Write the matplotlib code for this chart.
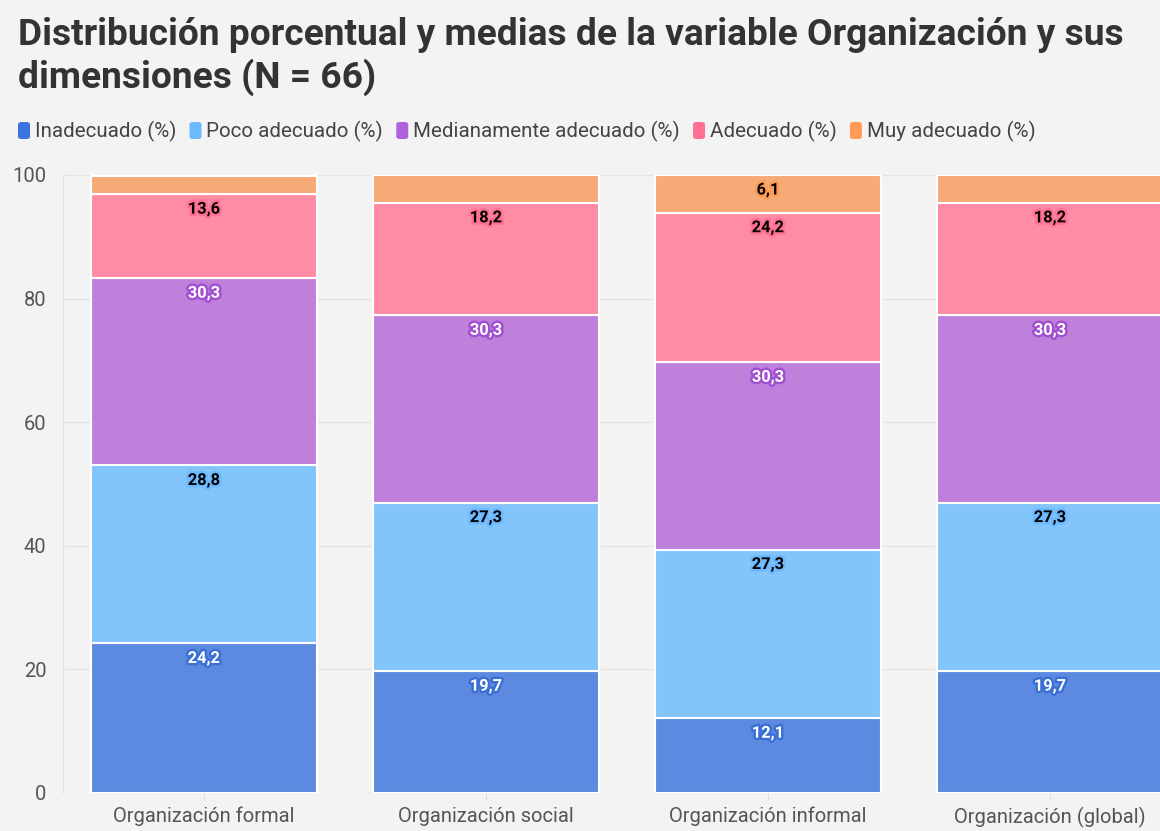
import matplotlib
matplotlib.use("Agg")
import matplotlib.pyplot as plt
import matplotlib.patheffects as pe
from matplotlib.patches import FancyBboxPatch
import numpy as np

categories = ["Organización formal", "Organización social", "Organización informal", "Organización (global)"]
series_names = ["Inadecuado (%)", "Poco adecuado (%)", "Medianamente adecuado (%)", "Adecuado (%)", "Muy adecuado (%)"]
inadecuado = [24.2, 19.7, 12.1, 19.7]
poco_adecuado = [28.8, 27.3, 27.3, 27.3]
medianamente = [30.3, 30.3, 30.3, 30.3]
adecuado = [13.6, 18.2, 24.2, 18.2]
muy_adecuado = [3.0, 4.5, 6.1, 4.5]
series_values = [inadecuado, poco_adecuado, medianamente, adecuado, muy_adecuado]
yticks = [0, 20, 40, 60, 80, 100]

bar_colors = ["#5b8ae0", "#83c4fb", "#bf80dc", "#ff8ca5", "#f6aa76"]
legend_colors = ["#3b74df", "#6cb9ff", "#b062dd", "#ff7093", "#ff9b55"]
label_text = ["white", "black", "white", "black", "black"]
label_glow = ["#3b6fd6", "#6cb9ff", "#a050d0", "#ff7093", "#ff9b55"]

plt.rcParams["font.family"] = ["Roboto", "DejaVu Sans"]
bg = "#f3f3f3"
fig = plt.figure(figsize=(11.60, 8.31), dpi=100, facecolor=bg)
ax = fig.add_axes([63/1160, 38/831, 1128/1160, 618/831])
ax.set_facecolor(bg)

x = np.arange(len(categories))
bottom = np.zeros(len(categories))
for i, vals in enumerate(series_values):
    vals = np.array(vals)
    ax.bar(x, vals, width=0.8, bottom=bottom, color=bar_colors[i],
           edgecolor="white", linewidth=1.5, zorder=3)
    for j, v in enumerate(vals):
        if v >= 5:
            top = bottom[j] + v
            ax.annotate(f"{v:.1f}".replace(".", ","), xy=(x[j], top), xytext=(0, -15),
                        textcoords="offset pixels", ha="center", va="center",
                        fontsize=11.8, fontweight="bold", color=label_text[i], zorder=5,
                        path_effects=[pe.withStroke(linewidth=3.5, foreground=label_glow[i])])
    bottom += vals

ax.set_xlim(-0.5, 3.5)
ax.set_ylim(0, 100)
ax.set_yticks(yticks)
ax.set_xticks(x)
ax.set_xticklabels(categories, fontsize=14.5, color="#555555")
ax.tick_params(axis="y", length=0, labelsize=14.5, labelcolor="#555555", pad=12)
ax.tick_params(axis="x", length=5, color="#dddddd", pad=5)
ax.grid(axis="y", color="#e4e4e4", linewidth=1, zorder=0)
for s in ["top", "right", "bottom"]:
    ax.spines[s].set_visible(False)
ax.spines["left"].set_color("#e4e4e4")
ax.spines["left"].set_bounds(0, 100)

fig.text(18/1160, 1 - 45/831, "Distribución porcentual y medias de la variable Organización y sus",
         fontsize=26.7, fontweight="bold", color="#333333", va="baseline", ha="left")
fig.text(18/1160, 1 - 88/831, "dimensiones (N = 66)",
         fontsize=26.7, fontweight="bold", color="#333333", va="baseline", ha="left")

# legend
xpos = 18
ypix = 131
renderer = fig.canvas.get_renderer()
for name, c in zip(series_names, legend_colors):
    sq = FancyBboxPatch((xpos/1160, 1 - (ypix + 8)/831), 12/1160, 17/831,
                        boxstyle="round,pad=0,rounding_size=0.003", transform=fig.transFigure,
                        facecolor=c, edgecolor="none")
    fig.patches.append(sq)
    t = fig.text((xpos + 17)/1160, 1 - ypix/831, name, fontsize=14.8, color="#444444",
                 va="center", ha="left")
    bb = t.get_window_extent(renderer)
    xpos = bb.x1 + 13

fig.savefig("out.png", dpi=100, facecolor=bg)
